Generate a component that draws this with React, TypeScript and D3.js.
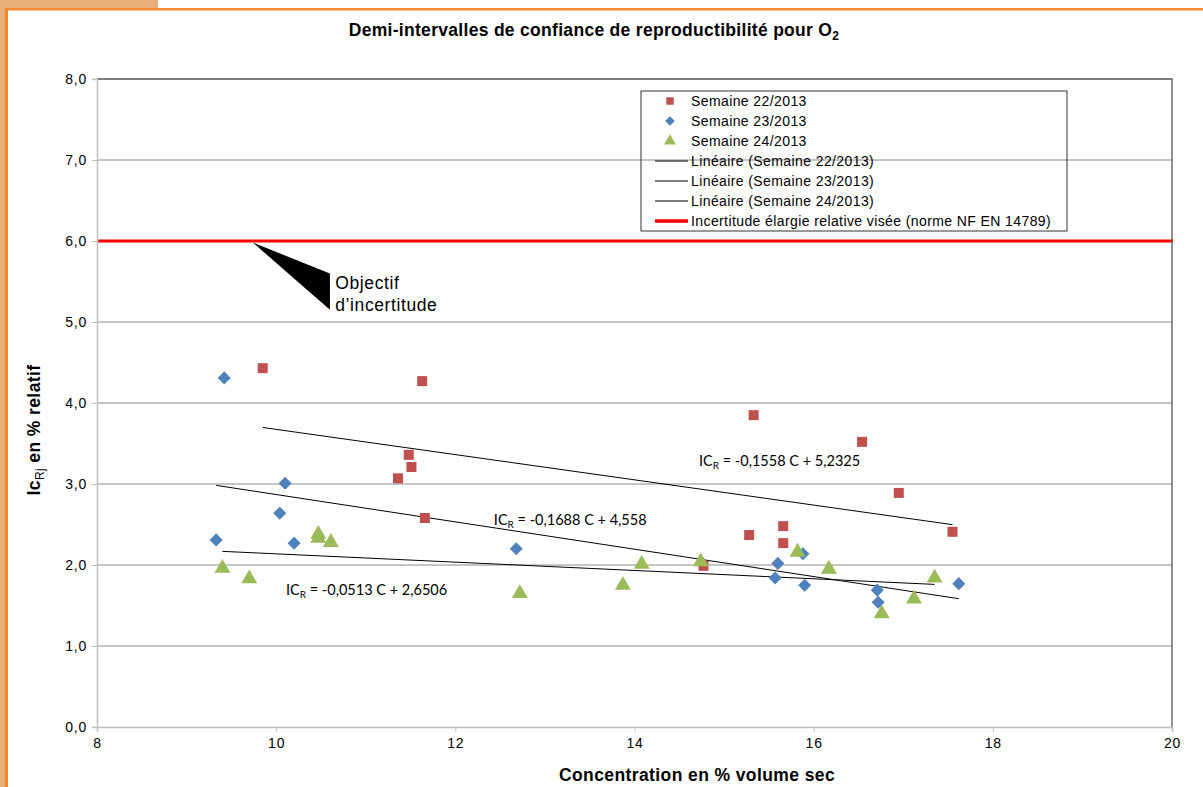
import { useEffect, useRef } from "react";
import * as d3 from "d3";

const W = 1203;
const H = 787;

const X_TICKS = [8, 10, 12, 14, 16, 18, 20];
const Y_TICKS = [0, 1, 2, 3, 4, 5, 6, 7, 8];

// Semaine 22/2013
const S22_X = [9.85, 11.63, 11.48, 11.51, 11.36, 11.66, 15.33, 16.54, 16.95, 15.28, 15.66, 15.66, 14.77, 17.55];
const S22_Y = [4.43, 4.27, 3.36, 3.21, 3.07, 2.58, 3.85, 3.52, 2.89, 2.37, 2.48, 2.27, 1.99, 2.41];
// Semaine 23/2013
const S23_X = [9.42, 10.1, 10.04, 9.33, 10.2, 12.68, 15.88, 15.6, 15.57, 15.9, 16.71, 16.72, 17.62];
const S23_Y = [4.31, 3.01, 2.64, 2.31, 2.27, 2.2, 2.14, 2.02, 1.84, 1.75, 1.69, 1.54, 1.77];
// Semaine 24/2013
const S24_X = [9.4, 9.7, 10.47, 10.47, 10.61, 12.72, 13.87, 14.08, 14.74, 15.82, 16.17, 17.12, 16.76, 17.35];
const S24_Y = [1.96, 1.83, 2.38, 2.33, 2.28, 1.65, 1.75, 2.01, 2.04, 2.16, 1.95, 1.58, 1.4, 1.84];

const SERIES_NAMES = ["Semaine 22/2013", "Semaine 23/2013", "Semaine 24/2013"];
const SERIES_COLORS = ["#C0504D", "#4F81BD", "#9BBB59"];

// linear trends as printed on the chart
const TREND_SLOPE = [-0.1558, -0.1688, -0.0513];
const TREND_INTERCEPT = [5.2325, 4.558, 2.6506];
const TREND_TEXT = ["= -0,1558 C + 5,2325", "= -0,1688 C + 4,558", "= -0,0513 C + 2,6506"];

const TARGET = 6;
const TARGET_LABEL = "Incertitude élargie relative visée (norme NF EN 14789)";

export default function App() {
  const ref = useRef<SVGSVGElement>(null);

  useEffect(() => {
    const svg = d3.select(ref.current);
    svg.selectAll("*").remove();

    const m = { left: 97, right: 1172, top: 79, bottom: 727 };
    const x = d3.scaleLinear().domain([8, 20]).range([m.left, m.right]);
    const y = d3.scaleLinear().domain([0, 8]).range([m.bottom, m.top]);
    const FONT = "'Liberation Sans', Arial, sans-serif";

    svg.append("rect").attr("width", W).attr("height", H).attr("fill", "#fff");

    // page frame
    svg.append("rect").attr("x", 0).attr("y", 0).attr("width", 158).attr("height", 9).attr("fill", "#E9AE79");
    svg.append("rect").attr("x", 0).attr("y", 0).attr("width", 5).attr("height", H).attr("fill", "#E9AE79");
    svg.append("rect").attr("x", 5).attr("y", 8).attr("width", W - 5).attr("height", 2.5).attr("fill", "#F38A30");
    svg.append("rect").attr("x", 5).attr("y", 8).attr("width", 3).attr("height", H).attr("fill", "#F38A30");

    // gridlines
    svg.append("g")
      .selectAll("line")
      .data(Y_TICKS.filter(d => d > 0 && d < 8))
      .join("line")
      .attr("x1", m.left).attr("x2", m.right)
      .attr("y1", d => y(d)).attr("y2", d => y(d))
      .attr("stroke", "#8C8C8C").attr("stroke-width", 1);

    // target line (clipped to the plot width)
    svg.append("rect")
      .attr("x", x(8)).attr("y", y(TARGET) - 1.5)
      .attr("width", x(20) - x(8) + 1).attr("height", 3)
      .attr("fill", "#FF0000");

    // top / right border
    svg.append("path")
      .attr("d", `M${m.left},${y(8)}H${m.right}V${m.bottom}`)
      .attr("fill", "none").attr("stroke", "#555").attr("stroke-width", 1.3);

    // axes
    svg.append("g")
      .attr("transform", `translate(${m.left},0)`)
      .call(d3.axisLeft(y).tickValues(Y_TICKS).tickSize(5).tickPadding(5).tickFormat(d => d3.format(".1f")(d as number).replace(".", ",")))
      .call(ax => ax.select(".domain").attr("stroke", "#BFBFBF").attr("stroke-width", 1.5))
      .call(ax => ax.selectAll("line").attr("stroke", "#BFBFBF"))
      .call(ax => ax.selectAll("text").attr("fill", "#000").attr("font-size", 14).attr("letter-spacing", 0.8).attr("font-family", FONT));

    svg.append("g")
      .attr("transform", `translate(0,${m.bottom})`)
      .call(d3.axisBottom(x).tickValues(X_TICKS).tickSize(5).tickPadding(6))
      .call(ax => ax.select(".domain").attr("stroke", "#BFBFBF").attr("stroke-width", 1.5))
      .call(ax => ax.selectAll("line").attr("stroke", "#BFBFBF"))
      .call(ax => ax.selectAll("text").attr("fill", "#000").attr("font-size", 14).attr("letter-spacing", 0.8).attr("font-family", FONT));

    // annotation callout
    const callout = [[9.74, 5.98], [10.6, 5.6], [10.6, 5.15]];
    svg.append("path")
      .attr("d", d3.line()(callout.map(p => [x(p[0]), y(p[1])]) as [number, number][]) + "Z")
      .attr("fill", "#000");
    const note = svg.append("text").attr("font-family", FONT).attr("font-size", 17.5)
      .attr("letter-spacing", 0.6).attr("fill", "#000");
    note.append("tspan").attr("x", x(10.66)).attr("y", y(5.41)).text("Objectif");
    note.append("tspan").attr("x", x(10.66)).attr("y", y(5.14)).text("d’incertitude");

    const SX = [S22_X, S23_X, S24_X];
    const SY = [S22_Y, S23_Y, S24_Y];

    // trend lines
    SX.forEach((xs, i) => {
      const [x0, x1] = d3.extent(xs) as [number, number];
      svg.append("line")
        .attr("x1", x(x0)).attr("y1", y(TREND_SLOPE[i] * x0 + TREND_INTERCEPT[i]))
        .attr("x2", x(x1)).attr("y2", y(TREND_SLOPE[i] * x1 + TREND_INTERCEPT[i]))
        .attr("stroke", "#000").attr("stroke-width", 1);
    });

    const symbols = [d3.symbolSquare, d3.symbolSquare, d3.symbolTriangle];
    const sizes = [100, 85, 110];
    const rot = [0, 45, 0];

    const drawSeries = (i: number) => {
      svg.append("g").selectAll("path")
        .data(SX[i].map((v, k) => [v, SY[i][k]]))
        .join("path")
        .attr("transform", d => `translate(${x(d[0])},${y(d[1])}) rotate(${rot[i]})`)
        .attr("d", d3.symbol(symbols[i], sizes[i])()!)
        .attr("fill", SERIES_COLORS[i]);
    };
    drawSeries(0);
    drawSeries(1);
    drawSeries(2);

    // equation labels
    const LBL = "Lato, 'Open Sans', sans-serif";
    const eqPos = [[14.72, 3.22], [12.43, 2.49], [10.11, 1.63]];
    eqPos.forEach((p, i) => {
      const t = svg.append("text").attr("x", x(p[0])).attr("y", y(p[1]))
        .attr("font-family", LBL).attr("font-size", 14.5).attr("fill", "#000");
      t.append("tspan").text("IC");
      t.append("tspan").attr("font-size", 10).attr("dy", 3).text("R");
      t.append("tspan").attr("dy", -3).text(" " + TREND_TEXT[i]);
    });

    // title
    const title = svg.append("text").attr("x", 594).attr("y", 36)
      .attr("text-anchor", "middle").attr("font-family", FONT)
      .attr("font-weight", "bold").attr("font-size", 17.5).attr("letter-spacing", 0.3).attr("fill", "#000");
    title.append("tspan").text("Demi-intervalles de confiance de reproductibilité pour O");
    title.append("tspan").attr("font-size", 12).attr("dy", 4).text("2");

    // axis titles
    svg.append("text").attr("x", 697).attr("y", 781)
      .attr("text-anchor", "middle").attr("font-family", FONT)
      .attr("font-weight", "bold").attr("font-size", 17.5).attr("letter-spacing", 0.4).attr("fill", "#000")
      .text("Concentration en % volume sec");

    const yt = svg.append("text")
      .attr("transform", "translate(40,430) rotate(-90)")
      .attr("text-anchor", "middle").attr("font-family", FONT)
      .attr("font-weight", "bold").attr("font-size", 17.5).attr("letter-spacing", 0.4).attr("fill", "#000");
    yt.append("tspan").text("Ic");
    yt.append("tspan").attr("font-size", 12).attr("dy", 4).attr("font-weight", "normal").text("Rj");
    yt.append("tspan").attr("dy", -4).text(" en % relatif");

    // legend
    const lg = svg.append("g").attr("font-family", FONT).attr("font-size", 14).attr("letter-spacing", 0.4);
    lg.append("rect").attr("x", 641).attr("y", 91).attr("width", 426).attr("height", 140)
      .attr("fill", "none").attr("stroke", "#333").attr("stroke-width", 1);
    const rows = [
      ...SERIES_NAMES.map((n, i) => ({ label: n, kind: "marker", i })),
      ...SERIES_NAMES.map((n, i) => ({ label: `Linéaire (${n})`, kind: "trend", i })),
      { label: TARGET_LABEL, kind: "target", i: 0 },
    ];
    rows.forEach((r, k) => {
      const cy = 101 + k * 20;
      if (r.kind === "marker") {
        lg.append("path").attr("transform", `translate(670,${cy}) rotate(${rot[r.i]})`)
          .attr("d", d3.symbol(symbols[r.i], sizes[r.i] * 0.55)()!)
          .attr("fill", SERIES_COLORS[r.i]);
      } else {
        lg.append("line").attr("x1", 655).attr("x2", 688).attr("y1", cy).attr("y2", cy)
          .attr("stroke", r.kind === "target" ? "#FF0000" : "#000")
          .attr("stroke-width", r.kind === "target" ? 3.5 : 1);
      }
      lg.append("text").attr("x", 691).attr("y", cy + 5).attr("fill", "#000").text(r.label);
    });
  }, []);

  return (
    <svg ref={ref} width={W} height={H}
      style={{ position: "absolute", left: 0, top: 0, display: "block" }} />
  );
}
